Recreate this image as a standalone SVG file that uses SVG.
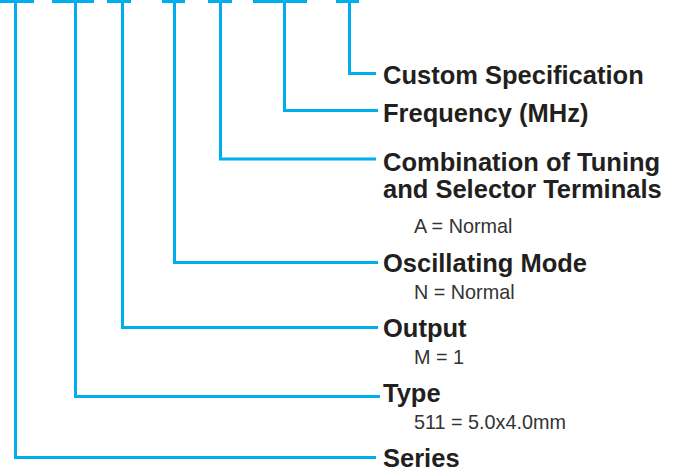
<svg xmlns="http://www.w3.org/2000/svg" width="679" height="472" viewBox="0 0 679 472">
<style>
.ln{fill:none;stroke:#00aeef;stroke-width:3;stroke-linejoin:miter;stroke-linecap:butt}
.h{font-family:"Liberation Sans",Arial,sans-serif;font-weight:bold;font-size:25.5px;fill:#231f20}
.s{font-family:"Liberation Sans",Arial,sans-serif;font-size:19.8px;fill:#333333}
</style>
<rect width="679" height="472" fill="#ffffff"/>
<g id="connectors">
<path class="ln" d="M0 1.5H34M52 1.5H94M107 1.5H131M162 1.5H185M208 1.5H232M253 1.5H307M336 1.5H359"/>
<path class="ln" d="M15.5 0V457.5H376"/>
<path class="ln" d="M75.5 0V396.5H380"/>
<path class="ln" d="M122.5 0V327.5H378"/>
<path class="ln" d="M174.5 0V262.5H378"/>
<path class="ln" d="M220.5 0V159H376"/>
<path class="ln" d="M284.5 0V110.5H378"/>
<path class="ln" d="M349.5 0V73.5H376"/>
</g>
<g id="custom"><text class="h" x="383" y="84">Custom Specification</text></g>
<g id="frequency"><text class="h" x="383" y="122">Frequency (MHz)</text></g>
<g id="combination"><text class="h" x="383" y="171">Combination of Tuning</text><text class="h" x="383" y="198">and Selector Terminals</text><text class="s" x="414" y="233">A = Normal</text></g>
<g id="oscillating"><text class="h" x="383" y="272">Oscillating Mode</text><text class="s" x="414" y="299">N = Normal</text></g>
<g id="output"><text class="h" x="383" y="337">Output</text><text class="s" x="414" y="364">M = 1</text></g>
<g id="type"><text class="h" x="383" y="402">Type</text><text class="s" x="414" y="429">511 = 5.0x4.0mm</text></g>
<g id="series"><text class="h" x="383" y="467">Series</text></g>
</svg>
